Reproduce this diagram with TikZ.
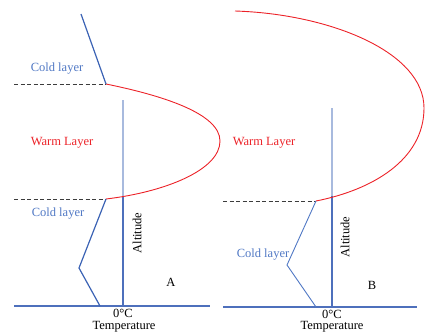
\documentclass[tikz,border=0pt]{standalone}
\usepackage{fontspec}
\setmainfont{Liberation Serif}
\definecolor{coldline}{RGB}{58,98,180}
\definecolor{coldtext}{RGB}{80,120,196}
\definecolor{axisblue}{RGB}{78,112,188}
\definecolor{axisfade}{RGB}{168,186,222}
\definecolor{warmred}{RGB}{236,34,40}
\definecolor{levelgray}{RGB}{60,60,60}
\begin{document}
\begin{tikzpicture}[x=1pt,y=-1pt,
  lbl/.style={inner sep=0pt, font=\fontsize{12.5}{13}\selectfont},
  coldlbl/.style={lbl, text=coldtext},
  warmlbl/.style={lbl, text=warmred},
  profile/.style={coldline, line width=1.2pt, line join=miter},
  thinprofile/.style={coldtext, line width=0.9pt},
  axisline/.style={axisblue, line width=1.2pt},
  fadeaxis/.style={axisfade, line width=1.2pt},
  level/.style={levelgray, line width=0.9pt, dash pattern=on 4pt off 2.5pt},
  boundary/.style={warmred, line width=0.9pt}]
\useasboundingbox (0,0) rectangle (425,332);

% ---------- panel A ----------
\coordinate (aTop) at (81,14);
\coordinate (aUp) at (106,84);
\coordinate (aLow) at (106,199);
\coordinate (aKink) at (79,268);
\coordinate (aFoot) at (100,306);
\coordinate (aAxTop) at (123,100);
\coordinate (aAxMid) at (123,196);
\coordinate (aAxBot) at (123,306);
\coordinate (aXl) at (14,306);
\coordinate (aXr) at (210,306);
\coordinate (aDashU) at (14,84);
\coordinate (aDashL) at (14,199);

\draw[fadeaxis] (aAxTop) -- (aAxMid);
\draw[axisline] (aAxMid) -- (aAxBot);
\draw[axisline] (aXl) -- (aXr);
\draw[level] (aDashU) -- (aUp);
\draw[level] (aDashL) -- (aLow);
\draw[boundary] (aUp) .. controls (160,95) and (220,113) .. (220,141)
  .. controls (220,170) and (165,192) .. (aLow);
\draw[profile] (aTop) -- (aUp);
\draw[profile] (aLow) -- (aKink) -- (aFoot);

\node[coldlbl] (aCold1) at (57,69) {Cold layer};
\node[warmlbl] (aWarm) at (62,143) {Warm Layer};
\node[coldlbl] (aCold2) at (58,214) {Cold layer};
\node[lbl, rotate=90] (aAlt) at (137,233) {Altitude};
\node[lbl] (aTag) at (171,282) {A};
\node[lbl] (aZero) at (123,313) {0°C};
\node[lbl] (aTemp) at (124,326.5) {Temperature};

% ---------- panel B ----------
\coordinate (bStart) at (235,11);
\coordinate (bLow) at (316,201);
\coordinate (bKink) at (287,265);
\coordinate (bFoot) at (316,307);
\coordinate (bAxTop) at (332,108);
\coordinate (bAxMid) at (332,196);
\coordinate (bAxBot) at (332,307);
\coordinate (bXl) at (223,307);
\coordinate (bXr) at (417,307);
\coordinate (bDash) at (223,201);

\draw[fadeaxis] (bAxTop) -- (bAxMid);
\draw[axisline] (bAxMid) -- (bAxBot);
\draw[axisline] (bXl) -- (bXr);
\draw[level] (bDash) -- (bLow);
\draw[boundary] (bStart) .. controls (330,14) and (424,52) .. (424,108)
  .. controls (424,160) and (372,190) .. (bLow);
\draw[thinprofile] (bLow) -- (bKink) -- (bFoot);

\node[warmlbl] (bWarm) at (264,143) {Warm Layer};
\node[coldlbl] (bCold) at (263,255) {Cold layer};
\node[lbl, rotate=90] (bAlt) at (345,237) {Altitude};
\node[lbl] (bTag) at (372,285) {B};
\node[lbl] (bZero) at (332,314) {0°C};
\node[lbl] (bTemp) at (332,327) {Temperature};
\end{tikzpicture}
\end{document}
